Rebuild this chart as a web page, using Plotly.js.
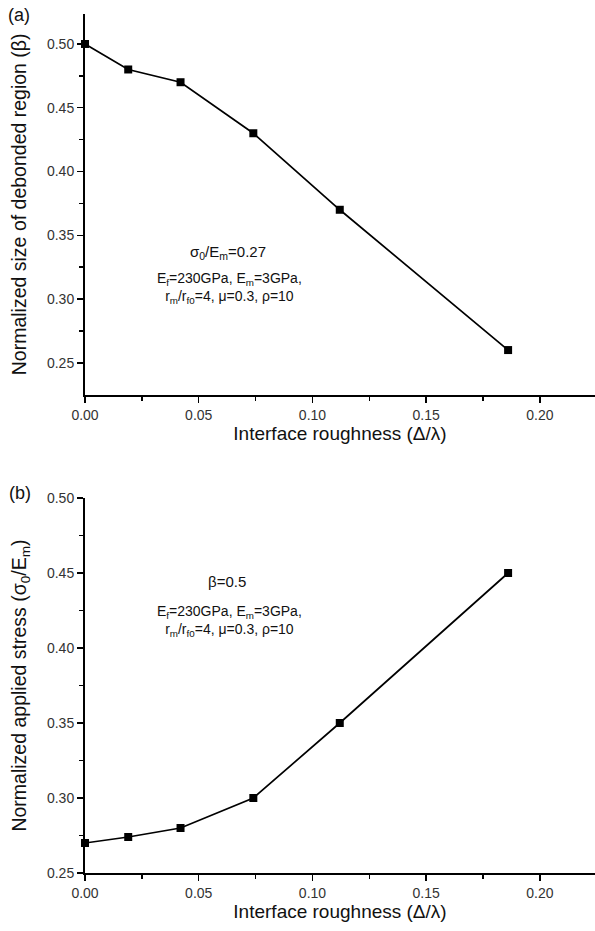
<!DOCTYPE html>
<html>
<head>
<meta charset="utf-8">
<script src="https://cdn.plot.ly/plotly-3.0.1.min.js"></script>
<style>html,body{margin:0;padding:0;background:#fff;}#chart{width:595px;height:931px;}</style>
</head>
<body>
<div id="chart"></div>
<script>
// Data
const roughness = [0, 0.019, 0.042, 0.074, 0.112, 0.186];
const debondSizeA = [0.50, 0.48, 0.47, 0.43, 0.37, 0.26];
const appliedStressB = [0.27, 0.274, 0.28, 0.30, 0.35, 0.45];

const xTickVals = [0, 0.05, 0.10, 0.15, 0.20];
const xTickText = ['0.00', '0.05', '0.10', '0.15', '0.20'];
const yTickValsA = [0.25, 0.30, 0.35, 0.40, 0.45, 0.50];
const yTickValsB = [0.25, 0.30, 0.35, 0.40, 0.45, 0.50];
const yTickText = ['0.25', '0.30', '0.35', '0.40', '0.45', '0.50'];

const W = 595, H = 931;
const px = v => v / W;
const py = v => 1 - v / H;

const FONT = 'Liberation Sans, Arial, sans-serif';
const lineStyle = {color: '#000', width: 1.7};
const markerStyle = {symbol: 'square', size: 8, color: '#000'};

const traces = [
  {x: roughness, y: debondSizeA, xaxis: 'x', yaxis: 'y', mode: 'lines+markers',
   line: lineStyle, marker: markerStyle, showlegend: false, cliponaxis: false},
  {x: roughness, y: appliedStressB, xaxis: 'x2', yaxis: 'y2', mode: 'lines+markers',
   line: lineStyle, marker: markerStyle, showlegend: false, cliponaxis: false}
];

function xAxis(anchor) {
  return {
    anchor: anchor, domain: [px(85), 1], range: [0, 0.2242],
    showline: true, linecolor: '#000', linewidth: 2, mirror: false,
    showgrid: false, zeroline: false,
    ticks: 'outside', ticklen: 6, tickwidth: 1.5, tickcolor: '#000',
    tickvals: xTickVals, ticktext: xTickText,
    tickfont: {family: FONT, size: 14, color: '#333'},
    minor: {tickvals: [0.025, 0.075, 0.125, 0.175], ticks: 'outside', ticklen: 4, tickwidth: 1.5, tickcolor: '#000', showgrid: false},
    title: {text: 'Interface roughness (Δ/λ)', font: {family: FONT, size: 19, color: '#111'}, standoff: 5},
    automargin: false
  };
}

function yAxis(anchor, domain, range, ticks, titleText) {
  return {
    anchor: anchor, domain: domain, range: range,
    showline: true, linecolor: '#000', linewidth: 2,
    showgrid: false, zeroline: false,
    ticks: 'outside', ticklen: 6, tickwidth: 1.5, tickcolor: '#000',
    tickvals: ticks, ticktext: yTickText,
    tickfont: {family: FONT, size: 14, color: '#333'},
    minor: {tickvals: [0.275, 0.325, 0.375, 0.425, 0.475], ticks: 'outside', ticklen: 4, tickwidth: 1.5, tickcolor: '#000', showgrid: false},
    title: {text: titleText, font: {family: FONT, size: 19.5, color: '#111'}, standoff: 15},
    automargin: false
  };
}

const annFont = {family: FONT, size: 15, color: '#111'};
const paramFont = {family: FONT, size: 14, color: '#111'};
function ann(text, x, y, extra) {
  return Object.assign({text: text, xref: 'paper', yref: 'paper', x: px(x), y: py(y),
    xanchor: 'center', yanchor: 'middle', showarrow: false, font: annFont}, extra || {});
}

const paramText = 'E<sub>f</sub>=230GPa, E<sub>m</sub>=3GPa,<br>r<sub>m</sub>/r<sub>f0</sub>=4, μ=0.3, ρ=10';

const layout = {
  width: W, height: H,
  margin: {l: 0, r: 0, t: 0, b: 0},
  paper_bgcolor: '#fff', plot_bgcolor: '#fff',
  xaxis: xAxis('y'),
  yaxis: yAxis('x', [py(394.7), py(14)], [0.225, 0.5235], yTickValsA, 'Normalized size of debonded region (β)'),
  xaxis2: xAxis('y2'),
  yaxis2: yAxis('x2', [py(873), py(498)], [0.25, 0.50], yTickValsB, 'Normalized applied stress (σ<sub>0</sub>/E<sub>m</sub>)'),
  annotations: [
    ann('(a)', 19, 15, {font: {family: FONT, size: 18, color: '#111'}}),
    ann('(b)', 20, 493, {font: {family: FONT, size: 18, color: '#111'}}),
    ann('σ<sub>0</sub>/E<sub>m</sub>=0.27', 228, 252),
    ann(paramText, 229, 288, {font: paramFont}),
    ann('β=0.5', 227, 581),
    ann(paramText, 229, 621, {font: paramFont})
  ]
};

Plotly.newPlot('chart', traces, layout, {staticPlot: true, displayModeBar: false});
</script>
</body>
</html>
